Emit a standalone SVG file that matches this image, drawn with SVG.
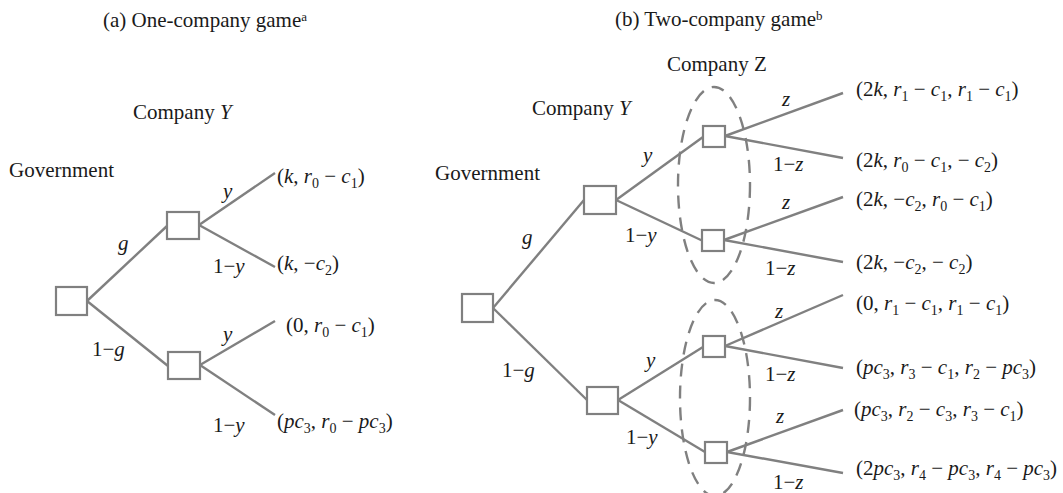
<svg xmlns="http://www.w3.org/2000/svg" width="1063" height="493" viewBox="0 0 1063 493">
<style>
.t{font-family:"Liberation Serif","Times New Roman",serif;font-size:21px;fill:#1a1a1a}
.i{font-style:italic}
.s{font-size:14px}
.sup{font-size:13px}
.node{fill:#fff;stroke:#808080;stroke-width:2.2}
.edge{stroke:#808080;stroke-width:2.4;fill:none}
.info{fill:none;stroke:#808080;stroke-width:2.4;stroke-dasharray:13 9}
</style>
<rect width="1063" height="493" fill="#fff"/>
<g id="titles">
<text class="t" x="103" y="27">(a) One-company game<tspan class="sup" dy="-6">a</tspan></text>
<text class="t" x="615" y="26">(b) Two-company game<tspan class="sup" dy="-6">b</tspan></text>
</g>
<g id="players">
<text class="t" x="133" y="119">Company <tspan class="i">Y</tspan></text>
<text class="t" x="9" y="177">Government</text>
<text class="t" x="667" y="71">Company Z</text>
<text class="t" x="532" y="115">Company <tspan class="i">Y</tspan></text>
<text class="t" x="435" y="180">Government</text>
</g>
<g id="info-sets">
<ellipse class="info" cx="714" cy="185" rx="36" ry="98"/>
<ellipse class="info" cx="715" cy="398" rx="35" ry="98"/>
</g>
<g id="connectors">
<line class="edge" x1="87" y1="301" x2="167" y2="226"/>
<line class="edge" x1="87" y1="301" x2="168" y2="366"/>
<line class="edge" x1="199" y1="225" x2="275" y2="173"/>
<line class="edge" x1="199" y1="225" x2="275" y2="267"/>
<line class="edge" x1="200" y1="365" x2="275" y2="321"/>
<line class="edge" x1="200" y1="365" x2="275" y2="415"/>
<line class="edge" x1="493" y1="308" x2="584" y2="200"/>
<line class="edge" x1="493" y1="308" x2="587" y2="400"/>
<line class="edge" x1="616" y1="200" x2="703" y2="137"/>
<line class="edge" x1="616" y1="200" x2="703" y2="241"/>
<line class="edge" x1="618" y1="400" x2="703" y2="347"/>
<line class="edge" x1="618" y1="400" x2="705" y2="452"/>
<line class="edge" x1="725" y1="136" x2="843" y2="93"/>
<line class="edge" x1="725" y1="136" x2="843" y2="158"/>
<line class="edge" x1="724" y1="240" x2="843" y2="197"/>
<line class="edge" x1="724" y1="240" x2="843" y2="262"/>
<line class="edge" x1="725" y1="346" x2="843" y2="295"/>
<line class="edge" x1="725" y1="346" x2="843" y2="368"/>
<line class="edge" x1="727" y1="452" x2="843" y2="410"/>
<line class="edge" x1="727" y1="452" x2="843" y2="473"/>
<g id="edge-labels">
<text class="t i" x="118" y="250">g</text>
<text class="t" x="92" y="356">1−<tspan class="i">g</tspan></text>
<text class="t i" x="223" y="198">y</text>
<text class="t" x="213" y="273">1−<tspan class="i">y</tspan></text>
<text class="t i" x="223" y="341">y</text>
<text class="t" x="213" y="432">1−<tspan class="i">y</tspan></text>
<text class="t i" x="522" y="244">g</text>
<text class="t" x="502" y="377">1−<tspan class="i">g</tspan></text>
<text class="t i" x="643" y="162">y</text>
<text class="t" x="625" y="242">1−<tspan class="i">y</tspan></text>
<text class="t i" x="646" y="367">y</text>
<text class="t" x="626" y="444">1−<tspan class="i">y</tspan></text>
<text class="t i" x="782" y="106">z</text>
<text class="t" x="773" y="171">1−<tspan class="i">z</tspan></text>
<text class="t i" x="782" y="209">z</text>
<text class="t" x="765" y="275">1−<tspan class="i">z</tspan></text>
<text class="t i" x="775" y="318">z</text>
<text class="t" x="765" y="381">1−<tspan class="i">z</tspan></text>
<text class="t i" x="776" y="423">z</text>
<text class="t" x="773" y="489">1−<tspan class="i">z</tspan></text>
</g>
</g>
<g id="node-a-gov"><rect class="node" x="56" y="287" width="31" height="28"/></g>
<g id="node-a-y1"><rect class="node" x="167" y="212" width="32" height="27"/></g>
<g id="node-a-y2"><rect class="node" x="168" y="352" width="32" height="27"/></g>
<g id="node-b-gov"><rect class="node" x="462" y="294" width="31" height="28"/></g>
<g id="node-b-y1"><rect class="node" x="584" y="186" width="32" height="28"/></g>
<g id="node-b-y2"><rect class="node" x="587" y="387" width="31" height="27"/></g>
<g id="node-b-z1"><rect class="node" x="703" y="126" width="22" height="21"/></g>
<g id="node-b-z2"><rect class="node" x="702" y="230" width="22" height="21"/></g>
<g id="node-b-z3"><rect class="node" x="703" y="336" width="22" height="21"/></g>
<g id="node-b-z4"><rect class="node" x="705" y="442" width="22" height="21"/></g>
<g id="payoffs-a">
<text class="t" x="277" y="183">(<tspan class="i">k</tspan>, <tspan class="i">r</tspan><tspan class="s" dy="5">0</tspan><tspan dy="-5"> − </tspan><tspan class="i">c</tspan><tspan class="s" dy="5">1</tspan><tspan dy="-5">)</tspan></text>
<text class="t" x="277" y="270">(<tspan class="i">k</tspan>, −<tspan class="i">c</tspan><tspan class="s" dy="5">2</tspan><tspan dy="-5">)</tspan></text>
<text class="t" x="286" y="332">(0, <tspan class="i">r</tspan><tspan class="s" dy="5">0</tspan><tspan dy="-5"> − </tspan><tspan class="i">c</tspan><tspan class="s" dy="5">1</tspan><tspan dy="-5">)</tspan></text>
<text class="t" x="277" y="428">(<tspan class="i">pc</tspan><tspan class="s" dy="5">3</tspan><tspan dy="-5">, </tspan><tspan class="i">r</tspan><tspan class="s" dy="5">0</tspan><tspan dy="-5"> − </tspan><tspan class="i">pc</tspan><tspan class="s" dy="5">3</tspan><tspan dy="-5">)</tspan></text>
</g>
<g id="payoffs-b">
<text class="t" x="856" y="96">(2<tspan class="i">k</tspan>, <tspan class="i">r</tspan><tspan class="s" dy="5">1</tspan><tspan dy="-5"> − </tspan><tspan class="i">c</tspan><tspan class="s" dy="5">1</tspan><tspan dy="-5">, </tspan><tspan class="i">r</tspan><tspan class="s" dy="5">1</tspan><tspan dy="-5"> − </tspan><tspan class="i">c</tspan><tspan class="s" dy="5">1</tspan><tspan dy="-5">)</tspan></text>
<text class="t" x="856" y="167">(2<tspan class="i">k</tspan>, <tspan class="i">r</tspan><tspan class="s" dy="5">0</tspan><tspan dy="-5"> − </tspan><tspan class="i">c</tspan><tspan class="s" dy="5">1</tspan><tspan dy="-5">, − </tspan><tspan class="i">c</tspan><tspan class="s" dy="5">2</tspan><tspan dy="-5">)</tspan></text>
<text class="t" x="856" y="206">(2<tspan class="i">k</tspan>, −<tspan class="i">c</tspan><tspan class="s" dy="5">2</tspan><tspan dy="-5">, </tspan><tspan class="i">r</tspan><tspan class="s" dy="5">0</tspan><tspan dy="-5"> − </tspan><tspan class="i">c</tspan><tspan class="s" dy="5">1</tspan><tspan dy="-5">)</tspan></text>
<text class="t" x="856" y="269">(2<tspan class="i">k</tspan>, −<tspan class="i">c</tspan><tspan class="s" dy="5">2</tspan><tspan dy="-5">, − </tspan><tspan class="i">c</tspan><tspan class="s" dy="5">2</tspan><tspan dy="-5">)</tspan></text>
<text class="t" x="856" y="310">(0, <tspan class="i">r</tspan><tspan class="s" dy="5">1</tspan><tspan dy="-5"> − </tspan><tspan class="i">c</tspan><tspan class="s" dy="5">1</tspan><tspan dy="-5">, </tspan><tspan class="i">r</tspan><tspan class="s" dy="5">1</tspan><tspan dy="-5"> − </tspan><tspan class="i">c</tspan><tspan class="s" dy="5">1</tspan><tspan dy="-5">)</tspan></text>
<text class="t" x="856" y="374">(<tspan class="i">pc</tspan><tspan class="s" dy="5">3</tspan><tspan dy="-5">, </tspan><tspan class="i">r</tspan><tspan class="s" dy="5">3</tspan><tspan dy="-5"> − </tspan><tspan class="i">c</tspan><tspan class="s" dy="5">1</tspan><tspan dy="-5">, </tspan><tspan class="i">r</tspan><tspan class="s" dy="5">2</tspan><tspan dy="-5"> − </tspan><tspan class="i">pc</tspan><tspan class="s" dy="5">3</tspan><tspan dy="-5">)</tspan></text>
<text class="t" x="854" y="416">(<tspan class="i">pc</tspan><tspan class="s" dy="5">3</tspan><tspan dy="-5">, </tspan><tspan class="i">r</tspan><tspan class="s" dy="5">2</tspan><tspan dy="-5"> − </tspan><tspan class="i">c</tspan><tspan class="s" dy="5">3</tspan><tspan dy="-5">, </tspan><tspan class="i">r</tspan><tspan class="s" dy="5">3</tspan><tspan dy="-5"> − </tspan><tspan class="i">c</tspan><tspan class="s" dy="5">1</tspan><tspan dy="-5">)</tspan></text>
<text class="t" x="856" y="475">(2<tspan class="i">pc</tspan><tspan class="s" dy="5">3</tspan><tspan dy="-5">, </tspan><tspan class="i">r</tspan><tspan class="s" dy="5">4</tspan><tspan dy="-5"> − </tspan><tspan class="i">pc</tspan><tspan class="s" dy="5">3</tspan><tspan dy="-5">, </tspan><tspan class="i">r</tspan><tspan class="s" dy="5">4</tspan><tspan dy="-5"> − </tspan><tspan class="i">pc</tspan><tspan class="s" dy="5">3</tspan><tspan dy="-5">)</tspan></text>
</g>
</svg>
